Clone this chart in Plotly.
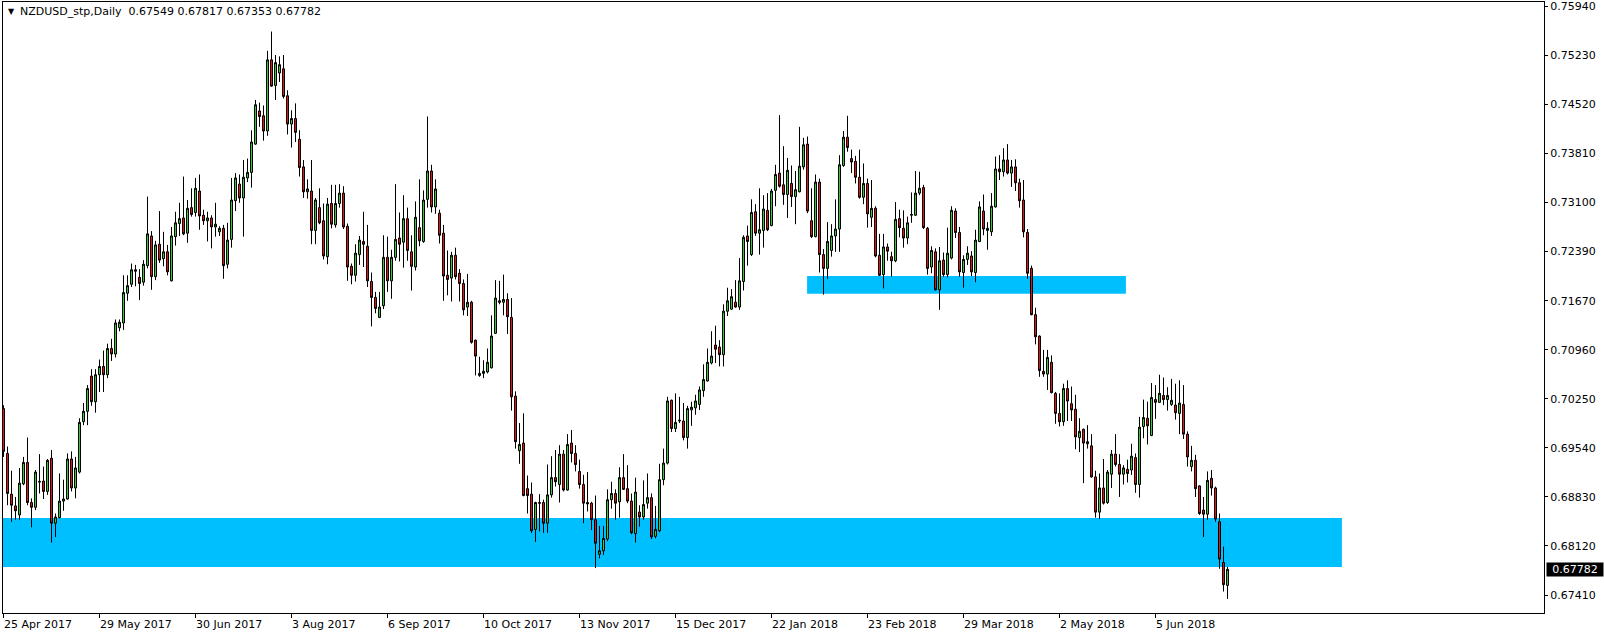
import plotly.graph_objects as go

# ---------------- data ----------------
OPEN = [
0.7011,0.6946,0.6887,0.6870,0.6857,0.6902,0.6933,0.6875,0.6868,0.69045,
0.6906,0.6891,0.6939,0.6845,0.6853,0.6877,0.6880,0.6938,0.6896,0.6919,
0.6992,0.7007,0.7058,0.7021,0.7060,0.7072,0.7060,0.7098,0.7090,0.7128,
0.7135,0.7178,0.7191,0.7212,0.7201,0.7194,0.7218,0.7261,0.7202,0.7249,
0.7228,0.7238,0.7196,0.7260,0.7279,0.7287,0.7265,0.7302,0.7295,0.7326,
0.7291,0.7283,0.7287,0.7274,0.7267,0.7272,0.7220,0.7256,0.7312,0.7336,
0.7316,0.7345,0.7353,0.7394,0.7442,0.7435,0.7413,0.7516,0.7479,0.7497,
0.7503,0.7464,0.7423,0.7431,0.7401,0.7361,0.7325,0.7326,0.7269,0.7302,
0.7283,0.7231,0.7308,0.7277,0.7308,0.7323,0.7275,0.7217,0.7204,0.7234,
0.7253,0.7246,0.7195,0.7172,0.7143,0.7160,0.7230,0.7196,0.7230,0.7258,
0.7252,0.7286,0.7238,0.7216,0.7273,0.7253,0.7314,0.7355,0.7303,0.7294,
0.7265,0.7204,0.7200,0.7233,0.7207,0.7192,0.7158,0.7165,0.7110,0.7059,
0.7062,0.7064,0.7070,0.7120,0.7167,0.7165,0.7169,0.7143,0.7029,0.6950,
0.6961,0.6895,0.6887,0.6836,0.6875,0.6875,0.6845,0.6886,0.6911,0.6901,
0.6945,0.6893,0.6961,0.6946,0.6920,0.6901,0.6875,0.6874,0.6850,0.6800,
0.6805,0.6822,0.6879,0.6888,0.6876,0.6911,0.6895,0.6877,0.6830,0.6861,
0.6854,0.6874,0.6882,0.6826,0.6834,0.6908,0.6932,0.7023,0.6982,0.6993,
0.6993,0.6969,0.7009,0.7012,0.7017,0.7037,0.7051,0.7077,0.7103,0.7100,
0.7089,0.7152,0.7155,0.7165,0.7158,0.7195,0.7261,0.7234,0.7296,0.7265,
0.7269,0.7298,0.7276,0.7327,0.7352,0.7335,0.7321,0.7337,0.7318,0.7325,
0.7361,0.7394,0.7283,0.7260,0.7339,0.7234,0.7214,0.7240,0.7261,0.7271,
0.7363,0.7404,0.7373,0.7369,0.7346,0.7317,0.7337,0.7288,0.7301,0.7233,
0.7205,0.7245,0.7231,0.7225,0.7286,0.7272,0.7258,0.7291,0.7291,0.7323,
0.7331,0.7272,0.7216,0.7238,0.7183,0.7226,0.7205,0.7229,0.7297,0.7266,
0.7208,0.7227,0.7232,0.7208,0.7253,0.7297,0.7269,0.7267,0.7303,0.7358,
0.7354,0.7371,0.7352,0.7361,0.7338,0.7313,0.7266,0.7214,0.7147,0.7116,
0.7065,0.7061,0.7078,0.7033,0.7004,0.6992,0.7040,0.7018,0.7010,0.6969,
0.6981,0.6963,0.6957,0.6912,0.6861,0.6896,0.6875,0.6916,0.6945,0.6930,
0.6916,0.6923,0.6922,0.6940,0.6901,0.6985,0.6997,0.6972,0.7024,0.7020,
0.7030,0.7024,0.7017,0.7016,0.7004,0.7017,0.6974,0.6927,0.6936,0.6899,
0.6864,0.6858,0.6910,0.6896,0.6847,0.6788,0.67549]

HIGH = [
0.7016,0.6956,0.6921,0.6883,0.6925,0.6941,0.6969,0.6881,0.6922,0.6945,
0.6927,0.6938,0.6951,0.6859,0.6917,0.6908,0.6946,0.6949,0.6941,0.6997,
0.7019,0.7045,0.7068,0.7068,0.7082,0.7095,0.7105,0.7112,0.7140,0.7140,
0.7204,0.7204,0.7221,0.7219,0.7213,0.7226,0.7318,0.7268,0.7254,0.7297,
0.7267,0.7248,0.7274,0.7296,0.7309,0.7347,0.7313,0.7330,0.7345,0.7350,
0.7299,0.7296,0.7291,0.7309,0.7275,0.7277,0.7280,0.7345,0.7352,0.7350,
0.7371,0.7373,0.7414,0.7458,0.7454,0.7450,0.7529,0.7557,0.7523,0.7521,
0.7523,0.7472,0.7443,0.7453,0.7414,0.7371,0.7343,0.7371,0.7316,0.7330,
0.7308,0.7316,0.7335,0.7335,0.7336,0.7333,0.7279,0.7221,0.7249,0.7261,
0.7296,0.7277,0.7208,0.7180,0.7180,0.7262,0.7260,0.7241,0.7336,0.7295,
0.7320,0.7302,0.7262,0.7311,0.7343,0.7327,0.7434,0.7364,0.7343,0.7299,
0.7277,0.7240,0.7238,0.7244,0.7213,0.7198,0.7206,0.7167,0.7111,0.7086,
0.7081,0.7098,0.7146,0.7197,0.7196,0.7205,0.7178,0.7171,0.7036,0.6990,
0.7004,0.6914,0.6904,0.6876,0.6887,0.6879,0.6930,0.6942,0.6951,0.6958,
0.6951,0.6974,0.6980,0.6958,0.6937,0.6915,0.6919,0.6876,0.6885,0.6841,
0.6841,0.6894,0.6905,0.6894,0.6926,0.6945,0.6929,0.6888,0.6911,0.6871,
0.6907,0.6917,0.6888,0.6870,0.6931,0.6953,0.7028,0.7024,0.7033,0.7028,
0.7019,0.7015,0.7021,0.7031,0.7043,0.7075,0.7098,0.7123,0.7131,0.7110,
0.7162,0.7186,0.7184,0.7197,0.7229,0.7262,0.7276,0.7314,0.7307,0.7330,
0.7320,0.7323,0.7329,0.7364,0.7436,0.7391,0.7374,0.7363,0.7355,0.7419,
0.7403,0.7405,0.7330,0.7350,0.7344,0.7242,0.7281,0.7278,0.7314,0.7378,
0.7413,0.7435,0.7386,0.7377,0.7386,0.7366,0.7344,0.7342,0.7304,0.7264,
0.7264,0.7250,0.7238,0.7310,0.7299,0.7298,0.7289,0.7324,0.7355,0.7354,
0.7335,0.7274,0.7246,0.7243,0.7245,0.7237,0.7273,0.7304,0.7301,0.7274,
0.7233,0.7246,0.7239,0.7270,0.7311,0.7321,0.7281,0.7323,0.7376,0.7378,
0.7388,0.7394,0.7371,0.7372,0.7344,0.7342,0.7271,0.7218,0.7157,0.7117,
0.7096,0.7096,0.7088,0.7035,0.7033,0.7047,0.7052,0.7043,0.7031,0.6997,
0.6982,0.6987,0.6974,0.6921,0.6917,0.6938,0.6922,0.6951,0.6974,0.6945,
0.6929,0.6937,0.6960,0.6946,0.6999,0.7024,0.7021,0.7048,0.7045,0.7060,
0.7056,0.7042,0.7054,0.7047,0.7052,0.7045,0.6978,0.6957,0.6944,0.6900,
0.6883,0.6920,0.6922,0.6898,0.6859,0.6811,0.67817]

LOW = [
0.6941,0.6871,0.6847,0.6850,0.6850,0.6900,0.6871,0.6839,0.6864,0.6888,
0.6880,0.6886,0.6817,0.6825,0.6852,0.6863,0.6879,0.6891,0.6881,0.6917,
0.6987,0.6987,0.7015,0.7005,0.7035,0.7035,0.7055,0.7080,0.7085,0.7123,
0.7125,0.7167,0.7187,0.7188,0.7168,0.7189,0.7214,0.7183,0.7197,0.7222,
0.7217,0.7204,0.7195,0.7247,0.7261,0.7262,0.7251,0.7289,0.7289,0.7270,
0.7277,0.7253,0.7243,0.7260,0.7261,0.7199,0.7214,0.7244,0.7297,0.7309,
0.7260,0.7339,0.7331,0.7393,0.7419,0.7399,0.7406,0.7477,0.7458,0.7484,
0.7460,0.7408,0.7389,0.7397,0.7347,0.7316,0.7315,0.7249,0.7249,0.7278,
0.7227,0.7220,0.7272,0.7273,0.7302,0.7271,0.7196,0.7191,0.7195,0.7219,
0.7216,0.7187,0.7130,0.7149,0.7142,0.7155,0.7180,0.7170,0.7225,0.7224,
0.7215,0.7225,0.7182,0.7211,0.7246,0.7251,0.7302,0.7295,0.7293,0.7250,
0.7167,0.7175,0.7166,0.7198,0.7166,0.7146,0.7145,0.7105,0.7059,0.7057,
0.7055,0.7062,0.7069,0.7119,0.7162,0.7146,0.7119,0.7008,0.6953,0.6931,
0.6884,0.6859,0.6831,0.6818,0.6833,0.6831,0.6831,0.6882,0.6898,0.6875,
0.6891,0.6892,0.6933,0.6920,0.6895,0.6845,0.6862,0.6835,0.6780,0.6794,
0.6799,0.6819,0.6866,0.6850,0.6853,0.6893,0.6874,0.6829,0.6817,0.6840,
0.6850,0.6866,0.6822,0.6823,0.6832,0.6900,0.6930,0.6977,0.6977,0.6990,
0.6965,0.6953,0.6986,0.7002,0.7009,0.7028,0.7050,0.7075,0.7077,0.7072,
0.7072,0.7145,0.7154,0.7157,0.7154,0.7182,0.7218,0.7232,0.7261,0.7234,
0.7244,0.7268,0.7275,0.7304,0.7331,0.7306,0.7287,0.7303,0.7278,0.7324,
0.7357,0.7294,0.7258,0.7259,0.7208,0.7176,0.7199,0.7231,0.7238,0.7238,
0.7361,0.7383,0.7352,0.7337,0.7315,0.7307,0.7273,0.7274,0.7230,0.7203,
0.7185,0.7225,0.7202,0.7223,0.7259,0.7244,0.7249,0.7280,0.7290,0.7320,
0.7271,0.7205,0.7207,0.7182,0.7154,0.7202,0.7201,0.7227,0.7258,0.7202,
0.7186,0.7219,0.7203,0.7194,0.7252,0.7262,0.7241,0.7261,0.7302,0.7342,
0.7347,0.7350,0.7332,0.7326,0.7302,0.7259,0.7199,0.7146,0.7104,0.7057,
0.7057,0.7038,0.7033,0.6989,0.6985,0.6986,0.6993,0.6993,0.6952,0.6948,
0.6903,0.6953,0.6911,0.6853,0.6851,0.6872,0.6873,0.6896,0.6927,0.6883,
0.6901,0.6904,0.6915,0.6889,0.6882,0.6968,0.6959,0.6971,0.6996,0.7019,
0.7016,0.7008,0.7015,0.6995,0.6974,0.6967,0.6927,0.6920,0.6883,0.6857,
0.6825,0.6850,0.6885,0.6847,0.6779,0.6746,0.67353]

CLOSE = [
0.6949,0.6888,0.6871,0.6863,0.6903,0.6933,0.6875,0.6868,0.6919,0.69055,
0.6891,0.6936,0.6845,0.6854,0.6877,0.6880,0.6938,0.6896,0.6925,0.6991,
0.7007,0.7040,0.7021,0.7060,0.7072,0.7060,0.7098,0.7090,0.7135,0.7136,
0.7179,0.7189,0.7212,0.7210,0.7192,0.7220,0.7264,0.7202,0.7248,0.7226,
0.7238,0.7209,0.7261,0.7280,0.7286,0.7264,0.7301,0.7292,0.7330,0.7290,
0.7283,0.7287,0.7274,0.7278,0.7272,0.7218,0.7255,0.7313,0.7345,0.7316,
0.7346,0.7353,0.7397,0.7451,0.7434,0.7413,0.7516,0.7478,0.7512,0.7509,
0.7463,0.7423,0.7431,0.7411,0.7360,0.7325,0.7329,0.7269,0.7313,0.7280,
0.7232,0.7307,0.7278,0.7308,0.7323,0.7274,0.7216,0.7204,0.7236,0.7255,
0.7249,0.7196,0.7172,0.7156,0.7158,0.7230,0.7196,0.7230,0.7256,0.7249,
0.7286,0.7240,0.7217,0.7288,0.7254,0.7313,0.7355,0.7303,0.7329,0.7262,
0.7203,0.7198,0.7233,0.7202,0.7192,0.7154,0.7165,0.7107,0.7087,0.7062,
0.7065,0.7078,0.7116,0.7171,0.7165,0.7169,0.7144,0.7028,0.6963,0.6959,
0.6885,0.6885,0.6834,0.6875,0.6874,0.6845,0.6886,0.6911,0.6905,0.6945,
0.6893,0.6959,0.6946,0.6930,0.6901,0.6874,0.6873,0.6850,0.6816,0.6805,
0.6823,0.6879,0.6888,0.6874,0.6911,0.6894,0.6877,0.6831,0.6890,0.6854,
0.6872,0.6882,0.6825,0.6836,0.6908,0.6932,0.7022,0.6982,0.6991,0.6994,
0.6969,0.7011,0.7013,0.7022,0.7038,0.7053,0.7078,0.7087,0.7097,0.7089,
0.7152,0.7167,0.7173,0.7158,0.7196,0.7259,0.7253,0.7295,0.7265,0.7270,
0.7300,0.7270,0.7326,0.7350,0.7333,0.7321,0.7356,0.7318,0.7328,0.7362,
0.7393,0.7297,0.7260,0.7339,0.7234,0.7214,0.7253,0.7261,0.7271,0.7364,
0.7404,0.7389,0.7368,0.7346,0.7317,0.7337,0.7293,0.7301,0.7232,0.7204,
0.7245,0.7239,0.7225,0.7285,0.7273,0.7258,0.7280,0.7292,0.7323,0.7330,
0.7273,0.7214,0.7240,0.7183,0.7225,0.7205,0.7236,0.7298,0.7266,0.7209,
0.7227,0.7236,0.7209,0.7255,0.7303,0.7271,0.7272,0.7304,0.7358,0.7354,
0.7371,0.7352,0.7361,0.7338,0.7312,0.7267,0.7207,0.7147,0.7115,0.7066,
0.7061,0.7085,0.7034,0.7004,0.6992,0.7040,0.7022,0.7009,0.6970,0.6978,
0.6961,0.6960,0.6912,0.6861,0.6896,0.6874,0.6919,0.6945,0.6930,0.6916,
0.6925,0.6917,0.6942,0.6901,0.6984,0.6998,0.6986,0.7027,0.7020,0.7033,
0.7024,0.7030,0.7023,0.7005,0.7019,0.6974,0.6941,0.6936,0.6895,0.6859,
0.6858,0.6907,0.6896,0.6851,0.6793,0.6756,0.67782]

DATE_LABELS = ["25 Apr 2017", "29 May 2017", "30 Jun 2017", "3 Aug 2017",
               "6 Sep 2017", "10 Oct 2017", "13 Nov 2017", "15 Dec 2017",
               "22 Jan 2018", "23 Feb 2018", "29 Mar 2018", "2 May 2018",
               "5 Jun 2018"]
DATE_LABEL_BARS = [0, 24, 48, 72, 96, 120, 144, 168, 192, 216, 240, 264, 288]

PRICE_TICKS = [0.75940, 0.75230, 0.74520, 0.73810, 0.73100, 0.72390, 0.71670,
               0.70960, 0.70250, 0.69540, 0.68830, 0.68120, 0.67410]

# rectangles drawn on chart (bar index / price)
ZONE_LOW = dict(x0=-0.125, x1=334.6, y0=0.67817, y1=0.68526)
ZONE_MID = dict(x0=200.9, x1=280.6, y0=0.71774, y1=0.72030)

SYMBOL = "NZDUSD_stp,Daily"
LAST_BAR = [0.67549, 0.67817, 0.67353, 0.67782]

# ---------------- styling ----------------
GREEN = "#32CD32"
RED = "#E81010"
BLUE = "#00BFFF"
FONT = "DejaVu Sans"
FS = 11

bars = list(range(len(CLOSE)))

fig = go.Figure()
fig.add_trace(go.Candlestick(
    x=bars, open=OPEN, high=HIGH, low=LOW, close=CLOSE,
    increasing=dict(line=dict(color="black", width=1), fillcolor=GREEN),
    decreasing=dict(line=dict(color="black", width=1), fillcolor=RED),
    whiskerwidth=0, showlegend=False, hoverinfo="skip",
))

for z in (ZONE_LOW, ZONE_MID):
    fig.add_shape(type="rect", xref="x", yref="y", layer="below",
                  x0=z["x0"], x1=z["x1"], y0=z["y0"], y1=z["y1"],
                  fillcolor=BLUE, line=dict(width=0))

annotations = []
for lbl, b in zip(DATE_LABELS, DATE_LABEL_BARS):
    annotations.append(dict(x=b, xref="x", y=0, yref="paper", text=lbl,
                            showarrow=False, xanchor="left", yanchor="top",
                            xshift=-2, yshift=-3,
                            font=dict(family=FONT, size=FS, color="black")))

header = SYMBOL + "\u00a0\u00a0" + " ".join(f"{v:.5f}" for v in LAST_BAR)
annotations.append(dict(x=0, xref="paper", y=1, yref="paper", text=header,
                        showarrow=False, xanchor="left", yanchor="top",
                        xshift=15, yshift=-1,
                        font=dict(family=FONT, size=FS, color="black")))
annotations.append(dict(x=0, xref="paper", y=1, yref="paper", text="\u25bc",
                        showarrow=False, xanchor="left", yanchor="top",
                        xshift=3, yshift=-3,
                        font=dict(family=FONT, size=8, color="black")))
annotations.append(dict(x=1, xref="paper", y=LAST_BAR[3], yref="y",
                        text=f"{LAST_BAR[3]:.5f}", showarrow=False,
                        xanchor="left", yanchor="middle", xshift=2,
                        bgcolor="black", borderpad=1, width=54, height=11,
                        align="center",
                        font=dict(family=FONT, size=FS, color="white")))

fig.update_layout(
    width=1604, height=637,
    margin=dict(l=3, r=60, t=2, b=24, pad=0),
    paper_bgcolor="white", plot_bgcolor="white",
    boxgap=0.5, boxgroupgap=0,
    showlegend=False,
    annotations=annotations,
    xaxis=dict(range=[-0.125, 385.125], rangeslider=dict(visible=False),
               showgrid=False, zeroline=False, showline=True, mirror=True,
               linecolor="black", linewidth=1, ticks="outside",
               tickvals=DATE_LABEL_BARS, ticklen=4, tickcolor="black",
               showticklabels=False, fixedrange=True),
    yaxis=dict(range=[0.671493, 0.759979], side="right",
               showgrid=False, zeroline=False, showline=True, mirror=True,
               linecolor="black", linewidth=1, ticks="outside",
               tickvals=PRICE_TICKS, ticktext=[f"{v:.5f}" for v in PRICE_TICKS],
               ticklen=3, tickcolor="black", ticklabeloverflow="allow",
               tickfont=dict(family=FONT, size=FS, color="black"),
               automargin=False, fixedrange=True),
)

fig.write_html("out.html", config={"displayModeBar": False},
               post_script="document.body.style.margin='0';")
